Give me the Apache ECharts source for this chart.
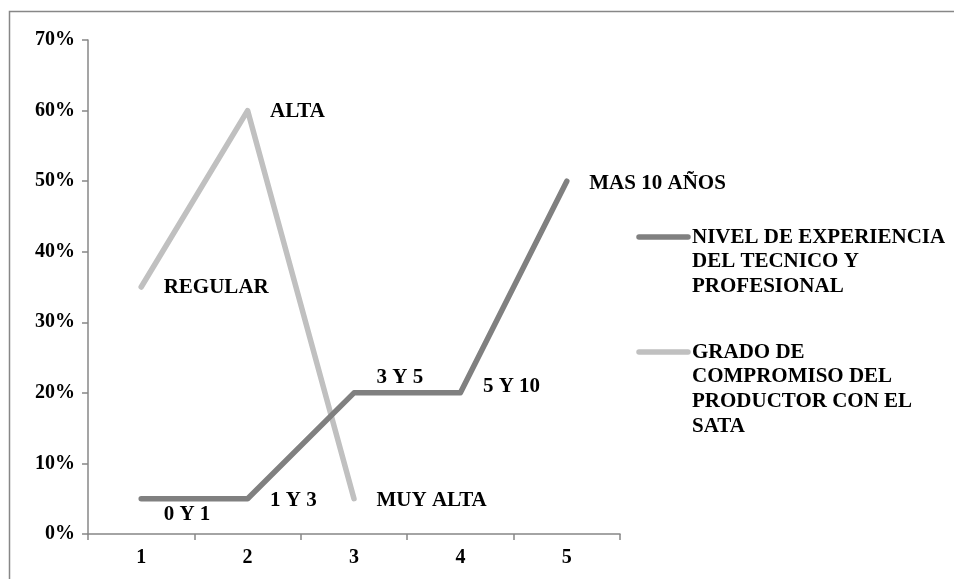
<!DOCTYPE html>
<html>
<head>
<meta charset="utf-8">
<script src="https://cdn.jsdelivr.net/npm/echarts@6/dist/echarts.min.js"></script>
<style>
  html, body { margin: 0; padding: 0; background: #ffffff; }
  #chart { width: 954px; height: 579px; }
</style>
</head>
<body>
<div id="chart"></div>
<script>
// Categories on the horizontal axis
const categories = ['1', '2', '3', '4', '5'];

// Series names (legend text)
const experienceName = 'NIVEL DE EXPERIENCIA\nDEL TECNICO Y\nPROFESIONAL';
const commitmentName = 'GRADO DE\nCOMPROMISO DEL\nPRODUCTOR CON EL\nSATA';

// Series values (shares)
const experienceValues = [0.05, 0.05, 0.20, 0.20, 0.50];
const commitmentValues = [0.35, 0.60, 0.05, null, null];

// Point labels
const experienceLabels = ['0 Y 1', '1 Y 3', '3 Y 5', '5 Y 10', 'MAS 10 AÑOS'];
const commitmentLabels = ['REGULAR', 'ALTA', 'MUY ALTA', '', ''];

// Y axis tick labels
const yTickLabels = ['0%', '10%', '20%', '30%', '40%', '50%', '60%', '70%'];

const FONT = '"Liberation Serif", "Times New Roman", serif';
const DARK = '#808080';
const LIGHT = '#c0c0c0';
const AXIS = '#878787';
const AXIS_FS = 20;
const LABEL_FS = 21;

// Label nudges for a few points that sit off the default right-hand spot
const experienceLabelOffsets = [[0, 16], [0, 2], [0, -15], [0, -6], [0, 2]];
const commitmentLabelOffsets = [[0, 1], [0, 1], [0, 2], [0, 0], [0, 0]];

function buildData(values, labels, offsets) {
  return values.map((v, i) => ({
    value: v,
    label: { formatter: labels[i], offset: offsets[i] }
  }));
}

const labelBase = {
  show: true,
  position: 'right',
  distance: 22,
  color: '#000',
  fontFamily: FONT,
  fontWeight: 'bold',
  fontSize: LABEL_FS
};

const chart = echarts.init(document.getElementById('chart'), null, { renderer: 'canvas' });

const legendTextStyle = {
  fontFamily: FONT,
  fontWeight: 'bold',
  fontSize: LABEL_FS,
  lineHeight: 24.7,
  fill: '#000'
};

chart.setOption({
  backgroundColor: '#ffffff',
  animation: false,
  grid: { left: 88, right: 334, top: 40, bottom: 45 },
  xAxis: {
    type: 'category',
    data: categories,
    boundaryGap: true,
    axisLine: { show: true, lineStyle: { color: AXIS, width: 1.5 } },
    axisTick: { show: true, length: 6, lineStyle: { color: AXIS, width: 1.5 } },
    axisLabel: {
      margin: 14,
      color: '#000',
      fontFamily: FONT,
      fontWeight: 'bold',
      fontSize: AXIS_FS
    },
    splitLine: { show: false }
  },
  yAxis: {
    type: 'value',
    min: 0,
    max: 0.7,
    interval: 0.1,
    axisLine: { show: true, lineStyle: { color: AXIS, width: 1.5 } },
    axisTick: { show: true, length: 6, lineStyle: { color: AXIS, width: 1.5 } },
    axisLabel: {
      margin: 13,
      color: '#000',
      fontFamily: FONT,
      fontWeight: 'bold',
      fontSize: AXIS_FS,
      formatter: (v) => yTickLabels[Math.round(v * 10)]
    },
    splitLine: { show: false }
  },
  series: [
    {
      name: experienceName,
      type: 'line',
      data: buildData(experienceValues, experienceLabels, experienceLabelOffsets),
      symbol: 'circle',
      symbolSize: 1,
      itemStyle: { color: DARK },
      lineStyle: { color: DARK, width: 5.5, cap: 'round', join: 'round' },
      label: labelBase,
      z: 3
    },
    {
      name: commitmentName,
      type: 'line',
      data: buildData(commitmentValues, commitmentLabels, commitmentLabelOffsets),
      symbol: 'circle',
      symbolSize: 1,
      connectNulls: false,
      itemStyle: { color: LIGHT },
      lineStyle: { color: LIGHT, width: 5.5, cap: 'round', join: 'round' },
      label: labelBase,
      z: 2
    }
  ],
  graphic: [
    // outer chart frame
    {
      type: 'rect',
      shape: { x: 9.5, y: 11.5, width: 1000, height: 1000 },
      style: { fill: 'none', stroke: AXIS, lineWidth: 1.5 },
      silent: true
    },
    // legend entries
    {
      type: 'line',
      shape: { x1: 639, y1: 237, x2: 688, y2: 237 },
      style: { stroke: DARK, lineWidth: 5.5, lineCap: 'round' }
    },
    {
      type: 'text',
      left: 692, top: 225,
      style: Object.assign({ text: experienceName }, legendTextStyle)
    },
    {
      type: 'line',
      shape: { x1: 639, y1: 352, x2: 688, y2: 352 },
      style: { stroke: LIGHT, lineWidth: 5.5, lineCap: 'round' }
    },
    {
      type: 'text',
      left: 692, top: 340,
      style: Object.assign({ text: commitmentName }, legendTextStyle)
    }
  ]
});
</script>
</body>
</html>
